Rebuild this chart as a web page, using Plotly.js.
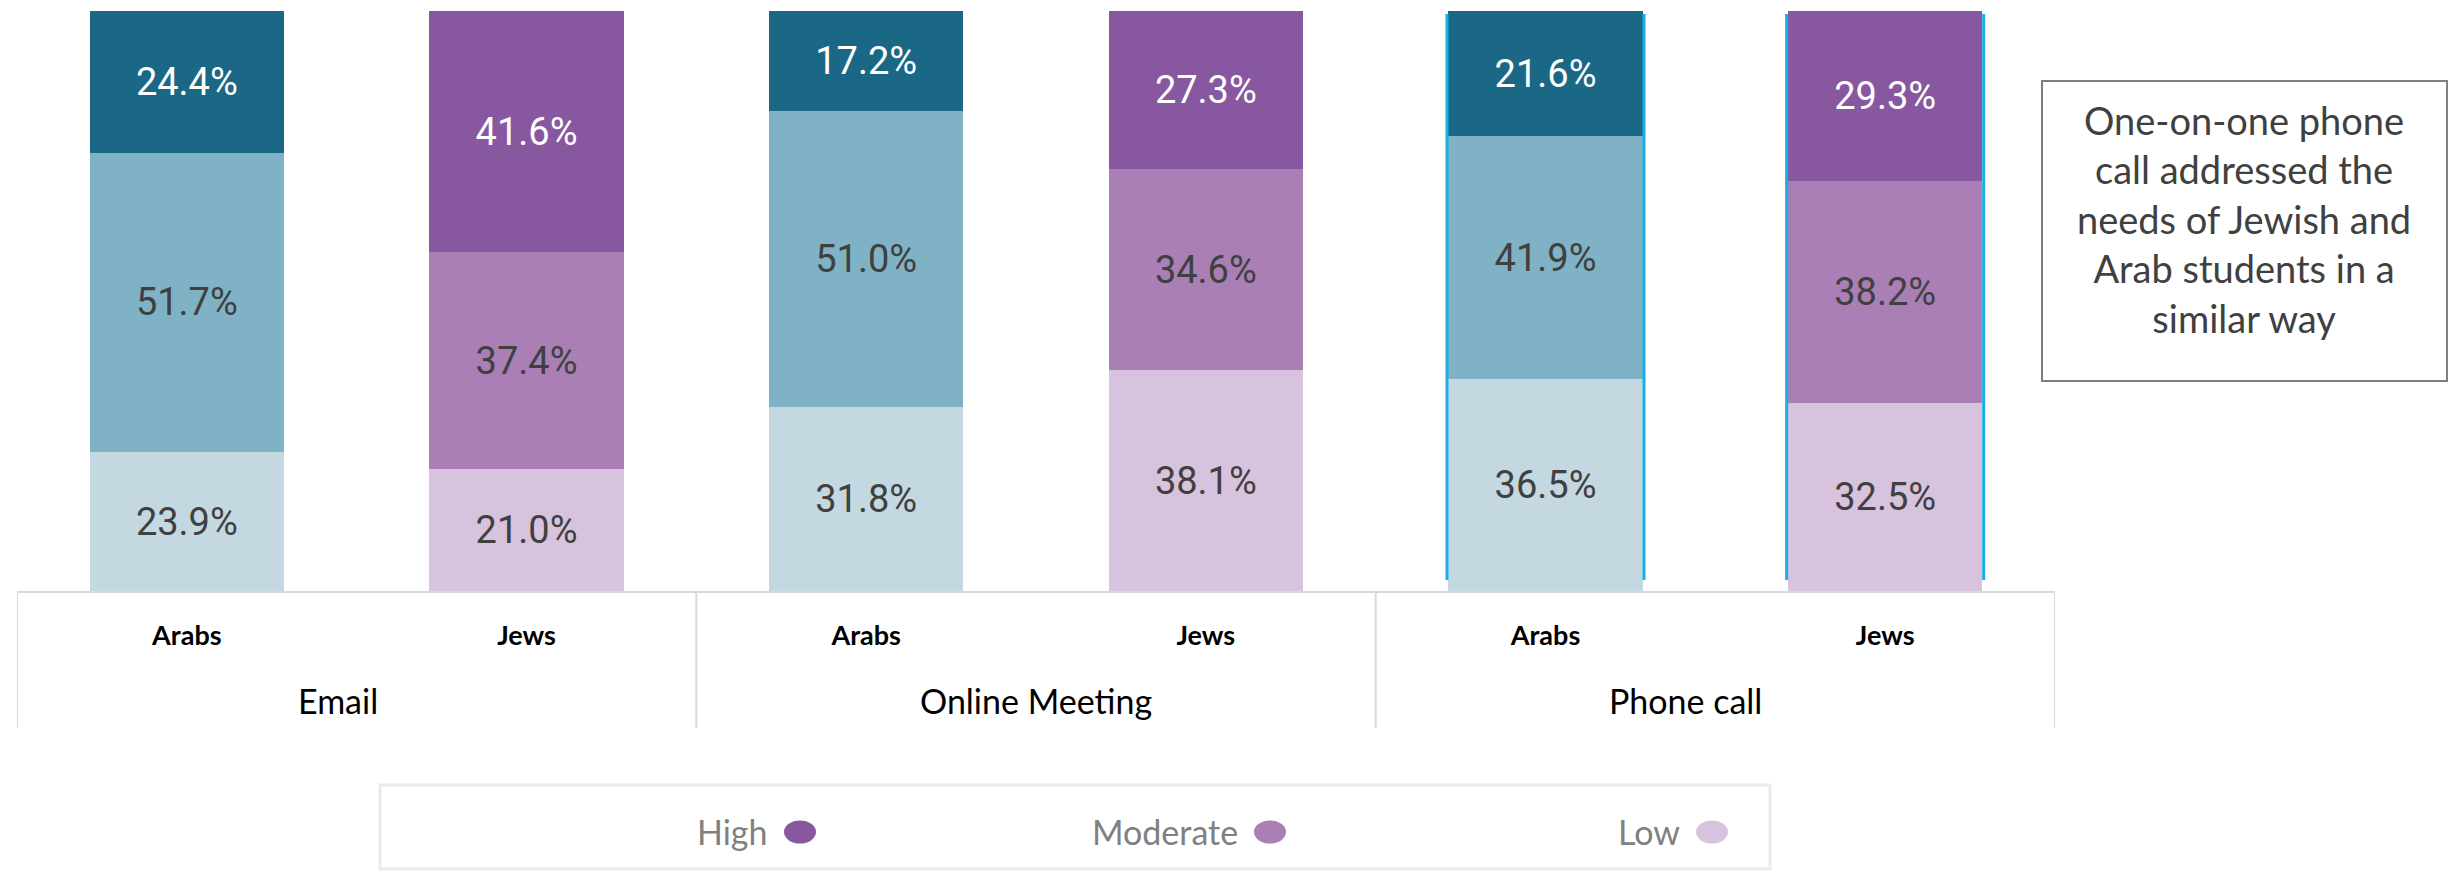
<!DOCTYPE html>
<html>
<head>
<meta charset="utf-8">
<script src="https://cdn.plot.ly/plotly-3.0.1.min.js"></script>
<style>html,body{margin:0;padding:0;background:#fff;}#chart{width:2450px;height:871px;}</style>
</head>
<body>
<div id="chart"></div>
<script>
// ---- data ----
const methods = ['Email', 'Online Meeting', 'Phone call'];
const groups = ['Arabs', 'Jews'];
const levels = ['High', 'Moderate', 'Low'];
const arabsHigh = [24.4, 17.2, 21.6];
const arabsModerate = [51.7, 51.0, 41.9];
const arabsLow = [23.9, 31.8, 36.5];
const jewsHigh = [41.6, 27.3, 29.3];
const jewsModerate = [37.4, 34.6, 38.2];
const jewsLow = [21.0, 38.1, 32.5];
const highlightedMethod = 'Phone call';
const noteText = 'One-on-one phone<br>call addressed the<br>needs of Jewish and<br>Arab students in a<br>similar way';

// ---- styles / layout constants ----
const W = 2450, H = 871;
const ML = 17, MR = 395, MT = 11, MB = 280;
const PW = W - ML - MR, PH = H - MT - MB;
const BAR_W = 0.572;
const arabColors = {High: '#1b6886', Moderate: '#7fb2c5', Low: '#c4d8e1'};
const jewColors = {High: '#8757a0', Moderate: '#a97fb5', Low: '#d8c3df'};
const labelColors = {High: '#ffffff', Moderate: '#404040', Low: '#404040'};
const calibriLike = 'Lato, "Open Sans", sans-serif';
const numFont = 'Roboto, sans-serif';
const methodLabelShift = [-19, 0, -30];

const px = v => (v - ML) / PW;
const py = v => (H - MB - v) / PH;

const series = {
  Arabs: {High: arabsHigh, Moderate: arabsModerate, Low: arabsLow, colors: arabColors},
  Jews: {High: jewsHigh, Moderate: jewsModerate, Low: jewsLow, colors: jewColors}
};

const posOf = (mi, gi) => mi * groups.length + gi;

const traces = [];
groups.forEach((g, gi) => {
  ['Low', 'Moderate', 'High'].forEach(level => {
    traces.push({
      type: 'bar',
      name: g + ' ' + level,
      x: methods.map((m, mi) => posOf(mi, gi)),
      y: series[g][level],
      width: BAR_W,
      marker: {color: series[g].colors[level], line: {width: 0}},
      text: series[g][level].map(v => v.toFixed(1) + '%'),
      textposition: 'inside',
      insidetextanchor: 'middle',
      textangle: 0,
      constraintext: 'none',
      textfont: {family: numFont, size: 38, color: labelColors[level]},
      hoverinfo: 'skip',
      showlegend: false
    });
  });
});

const shapes = [];
const annotations = [];

// category box dividers
for (let k = 0; k <= methods.length; k++) {
  shapes.push({type: 'line', xref: 'x', yref: 'paper',
    x0: k * groups.length - 0.5, x1: k * groups.length - 0.5,
    y0: 0, y1: py(728), line: {color: '#d9d9d9', width: 2}});
}
// method names
methods.forEach((m, mi) => {
  annotations.push({xref: 'x', yref: 'paper', x: posOf(mi, 0) + (groups.length - 1) / 2,
    xshift: methodLabelShift[mi],
    y: py(700), yanchor: 'middle', text: m, showarrow: false,
    font: {family: calibriLike, size: 34, color: '#000000'}});
});

// highlighted (selected) bars: cyan side edges
const hm = methods.indexOf(highlightedMethod);
groups.forEach((g, gi) => {
  const xc = posOf(hm, gi);
  const top = series[g].High[hm] + series[g].Moderate[hm] + series[g].Low[hm];
  [-1, 1].forEach(s => {
    const xe = xc + s * (BAR_W / 2 + 0.004);
    shapes.push({type: 'line', xref: 'x', yref: 'y', x0: xe, x1: xe,
      y0: top * 0.019, y1: top * 0.995, line: {color: '#1aaee6', width: 3}});
  });
});

// note box
shapes.push({type: 'rect', xref: 'paper', yref: 'paper',
  x0: px(2042), x1: px(2447), y0: py(381), y1: py(81),
  line: {color: '#7f7f7f', width: 2}, fillcolor: 'rgba(0,0,0,0)'});
annotations.push({xref: 'paper', yref: 'paper', x: px(2244), y: py(219),
  xanchor: 'center', yanchor: 'middle', align: 'center', text: noteText, showarrow: false,
  font: {family: calibriLike, size: 38, color: '#404040'}});

// custom legend (text then marker)
shapes.push({type: 'rect', xref: 'paper', yref: 'paper',
  x0: px(380), x1: px(1770), y0: py(869), y1: py(785),
  line: {color: '#ebebeb', width: 3}, fillcolor: 'rgba(0,0,0,0)'});
const legendMarkerX = [800, 1270, 1712];
const legendY = 832;
levels.forEach((lv, i) => {
  annotations.push({xref: 'paper', yref: 'paper', x: px(legendMarkerX[i] - 30), y: py(legendY),
    xanchor: 'right', yanchor: 'middle', text: lv, showarrow: false,
    font: {family: calibriLike, size: 34, color: '#808080'}});
  shapes.push({type: 'circle', xref: 'paper', yref: 'paper',
    xsizemode: 'pixel', ysizemode: 'pixel',
    xanchor: px(legendMarkerX[i]), yanchor: py(legendY),
    x0: -16, x1: 16, y0: -11.5, y1: 11.5,
    fillcolor: jewColors[lv], line: {width: 0}});
});

const tickvals = [], ticktext = [];
methods.forEach((m, mi) => groups.forEach((g, gi) => {
  tickvals.push(posOf(mi, gi));
  ticktext.push('<b>' + g + '</b>');
}));

const layout = {
  width: W, height: H,
  margin: {l: ML, r: MR, t: MT, b: MB, pad: 0},
  paper_bgcolor: '#ffffff', plot_bgcolor: '#ffffff',
  barmode: 'stack',
  showlegend: false,
  xaxis: {
    range: [-0.5, methods.length * groups.length - 0.5],
    tickvals: tickvals, ticktext: ticktext,
    ticks: 'outside', ticklen: 20, tickcolor: 'rgba(0,0,0,0)',
    tickfont: {family: calibriLike, size: 27, color: '#000000'},
    showline: true, linecolor: '#d9d9d9', linewidth: 2,
    showgrid: false, zeroline: false, fixedrange: true
  },
  yaxis: {
    range: [0, 100], visible: false, showgrid: false, zeroline: false, fixedrange: true
  },
  shapes: shapes,
  annotations: annotations
};

Plotly.newPlot('chart', traces, layout, {staticPlot: true, displayModeBar: false});
</script>
</body>
</html>
